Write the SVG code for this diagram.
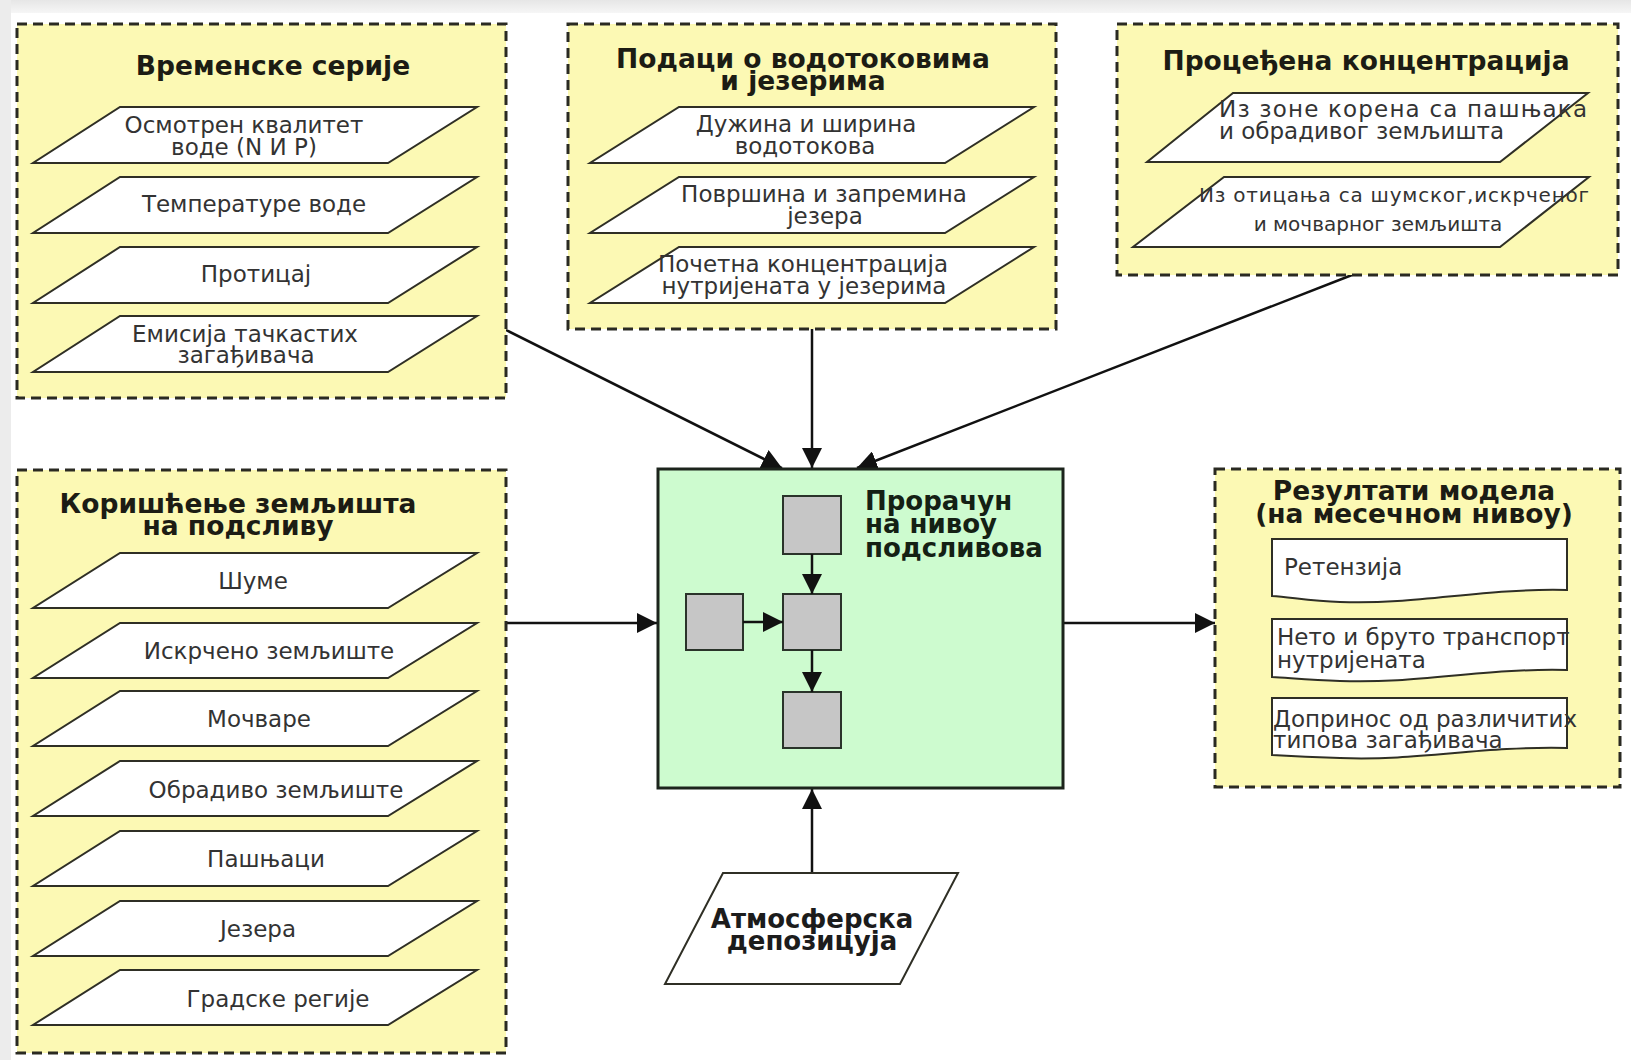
<svg xmlns="http://www.w3.org/2000/svg" width="1631" height="1060" viewBox="0 0 1631 1060">
<defs>
<style>
.bg{fill:#ffffff}
.grp{fill:#fcf9b4;stroke:#2a2a22;stroke-width:3;stroke-dasharray:10 6}
.para{fill:#ffffff;stroke:#2f2f25;stroke-width:2}
.doc{fill:#ffffff;stroke:#2f2f25;stroke-width:2}
.calc{fill:#cdfbcf;stroke:#1c241c;stroke-width:3}
.sq{fill:#c6c6c6;stroke:#2a332a;stroke-width:2}
.t{font-family:"DejaVu Sans","Verdana",sans-serif;font-size:23px;fill:#333333}
.ts{font-family:"DejaVu Sans","Verdana",sans-serif;font-size:20px;fill:#333333}
.h{font-family:"DejaVu Sans","Verdana",sans-serif;font-size:26.5px;font-weight:bold;fill:#1c1c14}
.hc{font-family:"DejaVu Sans","Verdana",sans-serif;font-size:26px;font-weight:bold;fill:#142014}
.m{text-anchor:middle}
.con{stroke:#111111;stroke-width:2.5;fill:none}
</style>
<marker id="ah" markerUnits="userSpaceOnUse" markerWidth="20" markerHeight="20" viewBox="0 0 20 20" refX="20" refY="10" orient="auto">
<path d="M0,0 L20,10 L0,20 Z" fill="#111111"/>
</marker>
<linearGradient id="topband" x1="0" y1="0" x2="0" y2="1">
<stop offset="0" stop-color="#e6e6e6"/>
<stop offset="1" stop-color="#f6f6f6"/>
</linearGradient>
</defs>
<rect class="bg" x="0" y="0" width="1631" height="1060"/>
<rect x="0" y="0" width="1631" height="13" fill="url(#topband)"/>
<rect x="0" y="0" width="11" height="1060" fill="#ececec"/>

<g id="connectors">
<line class="con" x1="506" y1="330" x2="782" y2="468" marker-end="url(#ah)"/>
<line class="con" x1="812" y1="329" x2="812" y2="468" marker-end="url(#ah)"/>
<line class="con" x1="1352" y1="275" x2="857" y2="468" marker-end="url(#ah)"/>
<line class="con" x1="506" y1="623" x2="657" y2="623" marker-end="url(#ah)"/>
<line class="con" x1="1063" y1="623" x2="1215" y2="623" marker-end="url(#ah)"/>
<line class="con" x1="812" y1="873" x2="812" y2="789" marker-end="url(#ah)"/>
</g>

<g id="vremenske-serije">
<rect class="grp" x="17" y="24" width="489" height="374"/>
<text class="h m" x="273" y="75">Временске серије</text>
<polygon class="para" points="120,107 477,107 388,163 33,163"/>
<text class="t m"><tspan x="244" y="133">Осмотрен квалитет</tspan><tspan x="244" y="155">воде (N И P)</tspan></text>
<polygon class="para" points="120,177 477,177 388,233 33,233"/>
<text class="t m" x="254" y="212">Температуре воде</text>
<polygon class="para" points="120,247 477,247 388,303 33,303"/>
<text class="t m" x="256" y="282">Протицај</text>
<polygon class="para" points="120,316 477,316 388,372 33,372"/>
<text class="t m"><tspan x="245" y="342">Емисија тачкастих</tspan><tspan x="246" y="363">загађивача</tspan></text>
</g>

<g id="podaci-vodotoci">
<rect class="grp" x="568" y="24" width="488" height="305"/>
<text class="h m"><tspan x="803" y="68">Подаци о водотоковима</tspan><tspan x="803" y="90">и језерима</tspan></text>
<polygon class="para" points="679,107 1034,107 945,163 590,163"/>
<text class="t m"><tspan x="806" y="132">Дужина и ширина</tspan><tspan x="805" y="154">водотокова</tspan></text>
<polygon class="para" points="679,177 1034,177 945,233 590,233"/>
<text class="t m"><tspan x="824" y="202">Површина и запремина</tspan><tspan x="825" y="224">језера</tspan></text>
<polygon class="para" points="679,247 1034,247 945,303 590,303"/>
<text class="t m"><tspan x="803" y="272">Почетна концентрација</tspan><tspan x="804" y="294">нутријената у језерима</tspan></text>
</g>

<g id="procenjena-koncentracija">
<rect class="grp" x="1117" y="24" width="501" height="251"/>
<text class="h m" x="1366" y="70">Процеђена концентрација</text>
<polygon class="para" points="1233,93 1588,93 1500,162 1147,162"/>
<text class="t"><tspan x="1219" y="117" textLength="368" lengthAdjust="spacing">Из зоне корена са пашњака</tspan><tspan x="1219" y="139">и обрадивог земљишта</tspan></text>
<polygon class="para" points="1224,177 1589,177 1500,247 1133,247"/>
<text class="ts"><tspan x="1199" y="202" textLength="390" lengthAdjust="spacing">Из отицања са шумског,искрченог</tspan><tspan x="1378" y="231" text-anchor="middle">и мочварног земљишта</tspan></text>
</g>

<g id="koriscenje-zemljista">
<rect class="grp" x="17" y="470" width="489" height="583"/>
<text class="h m"><tspan x="238" y="513">Коришћење земљишта</tspan><tspan x="238" y="535">на подсливу</tspan></text>
<polygon class="para" points="120,553 477,553 388,608 33,608"/>
<text class="t m" x="253" y="589">Шуме</text>
<polygon class="para" points="120,623 477,623 388,678 33,678"/>
<text class="t m" x="269" y="659">Искрчено земљиште</text>
<polygon class="para" points="120,691 477,691 388,746 33,746"/>
<text class="t m" x="259" y="727">Мочваре</text>
<polygon class="para" points="120,761 477,761 388,816 33,816"/>
<text class="t m" x="276" y="798">Обрадиво земљиште</text>
<polygon class="para" points="120,831 477,831 388,886 33,886"/>
<text class="t m" x="266" y="867">Пашњаци</text>
<polygon class="para" points="120,901 477,901 388,956 33,956"/>
<text class="t m" x="258" y="937">Језера</text>
<polygon class="para" points="120,970 477,970 388,1025 33,1025"/>
<text class="t m" x="278" y="1007">Градске регије</text>
</g>

<g id="proracun">
<rect class="calc" x="658" y="469" width="405" height="319"/>
<rect class="sq" x="783" y="496" width="58" height="58"/>
<rect class="sq" x="686" y="594" width="57" height="56"/>
<rect class="sq" x="783" y="594" width="58" height="56"/>
<rect class="sq" x="783" y="692" width="58" height="56"/>
<line class="con" x1="812" y1="554" x2="812" y2="594" marker-end="url(#ah)"/>
<line class="con" x1="743" y1="622" x2="783" y2="622" marker-end="url(#ah)"/>
<line class="con" x1="812" y1="650" x2="812" y2="692" marker-end="url(#ah)"/>
<text class="hc"><tspan x="865" y="510">Прорачун</tspan><tspan x="865" y="533">на нивоу</tspan><tspan x="865" y="557">подсливова</tspan></text>
</g>

<g id="atmosferska-depozicija">
<polygon class="para" points="723,873 958,873 900,984 665,984"/>
<text class="hc m" fill="#1c1c1c" style="fill:#1c1c1c"><tspan x="812" y="928">Атмосферска</tspan><tspan x="812" y="950">депозицуја</tspan></text>
</g>

<g id="rezultati-modela">
<rect class="grp" x="1215" y="469" width="405" height="318"/>
<text class="h m"><tspan x="1414" y="500">Резултати модела</tspan><tspan x="1414" y="523">(на месечном нивоу)</tspan></text>
<path class="doc" d="M1272,539 H1567 V590 C1480,588 1420,605 1340,602 C1310,601 1290,597 1272,596 Z"/>
<text class="t" x="1284" y="575">Ретензија</text>
<path class="doc" d="M1272,619 H1567 V670 C1480,668 1420,684 1340,681 C1310,680 1290,678 1272,677 Z"/>
<text class="t"><tspan x="1277" y="645">Нето и бруто транспорт</tspan><tspan x="1277" y="668">нутријената</tspan></text>
<path class="doc" d="M1272,698 H1567 V748 C1480,746 1420,761 1340,758 C1310,757 1290,756 1272,755 Z"/>
<text class="t"><tspan x="1273" y="727">Допринос од различитих</tspan><tspan x="1273" y="748">типова загађивача</tspan></text>
</g>
</svg>
